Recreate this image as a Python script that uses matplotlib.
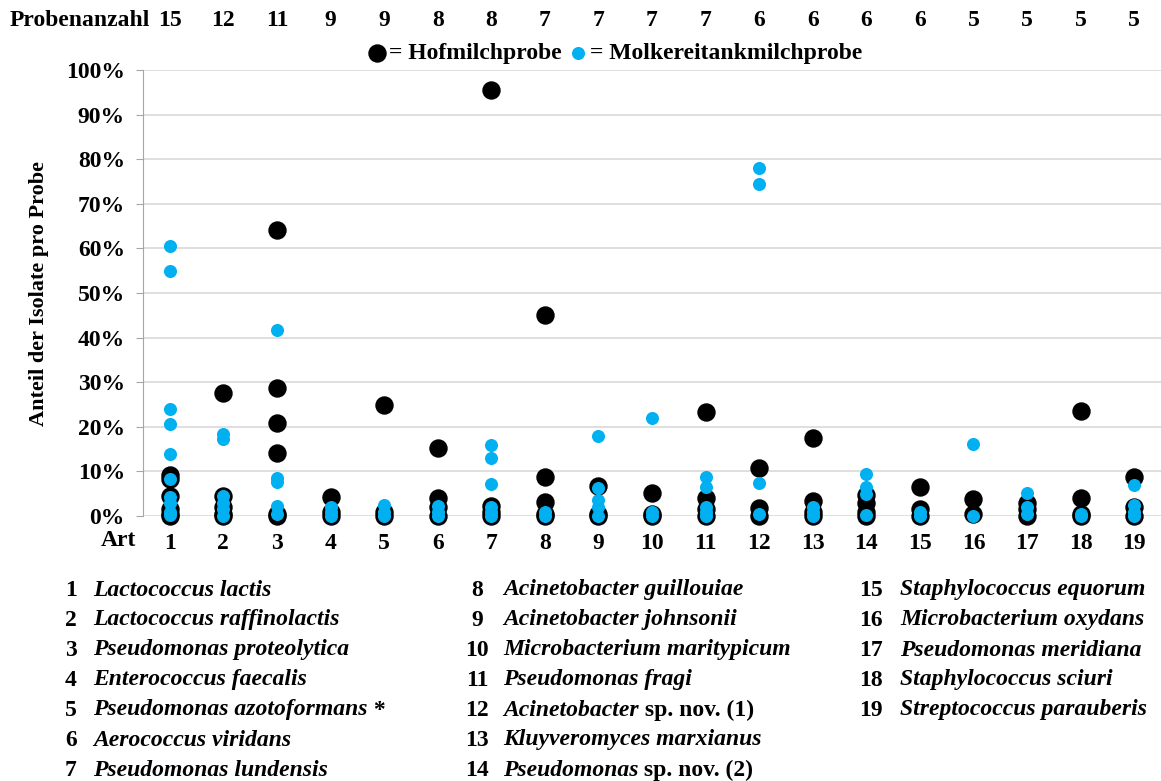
import matplotlib.pyplot as plt
import matplotlib.transforms as mtransforms

plt.rcParams["font.family"] = ["Liberation Serif", "DejaVu Serif"]
plt.rcParams["font.weight"] = "bold"

arten = list(range(1, 20))
probenanzahl = [15, 12, 11, 9, 9, 8, 8, 7, 7, 7, 7, 6, 6, 6, 6, 5, 5, 5, 5]

# Anteil der Isolate pro Probe (%)
hof_werte = [
    [9.2, 8.3, 4.5, 1.5, 0.5, 0],
    [27.6, 4.5, 2.0, 0.5, 0],
    [64.2, 28.7, 20.9, 14.1, 0.5, 0],
    [4.3, 1.0, 0],
    [25.0, 1.0, 0],
    [15.2, 4.0, 2.0, 0],
    [95.5, 2.2, 1.0, 0],
    [45.0, 8.8, 3.1, 0.5, 0],
    [6.7, 0.5, 0],
    [5.2, 0.5, 0],
    [23.3, 4.0, 1.5, 0],
    [10.8, 1.8, 0],
    [17.5, 3.4, 1.0, 0],
    [4.7, 3.0, 1.0, 0],
    [6.5, 1.5, 0],
    [3.8, 0.5],
    [3.0, 1.5, 0],
    [23.5, 4.0, 0.5, 0],
    [8.7, 2.0, 0],
]
tank_werte = [
    [60.5, 55.0, 24.0, 20.6, 14.0, 8.3, 4.2, 3.0, 1.0, 0.3],
    [18.4, 17.2, 4.5, 3.0, 1.5, 0],
    [41.7, 8.5, 7.7, 2.2, 0.5],
    [2.0, 1.0, 0],
    [2.5, 1.0, 0],
    [2.2, 1.0, 0],
    [16.0, 13.0, 7.2, 2.0, 1.0, 0],
    [1.0, 0],
    [18.0, 6.3, 3.5, 2.0, 0],
    [22.0, 1.0, 0],
    [8.8, 6.5, 2.0, 1.0, 0],
    [78.0, 74.5, 7.4, 0.5],
    [2.0, 1.0, 0],
    [9.4, 6.4, 5.0, 0.3],
    [1.0, 0],
    [16.1, 0],
    [5.1, 2.0, 0.5],
    [0.5, 0],
    [7.0, 2.5, 1.0, 0],
]

gattung = [
    "Lactococcus lactis", "Lactococcus raffinolactis", "Pseudomonas proteolytica",
    "Enterococcus faecalis", "Pseudomonas azotoformans", "Aerococcus viridans",
    "Pseudomonas lundensis", "Acinetobacter guillouiae", "Acinetobacter johnsonii",
    "Microbacterium maritypicum", "Pseudomonas fragi", "Acinetobacter",
    "Kluyveromyces marxianus", "Pseudomonas", "Staphylococcus equorum",
    "Microbacterium oxydans", "Pseudomonas meridiana", "Staphylococcus sciuri",
    "Streptococcus parauberis",
]
zusatz = {5: " *", 12: " sp. nov. (1)", 14: " sp. nov. (2)"}

blau = "#00b0f0"
fs = 17

fig = plt.figure(figsize=(11.61, 7.81), dpi=100)
ax = fig.add_axes([143 / 1161, 1 - 516 / 781, 1018 / 1161, 446 / 781])

for art, werte in zip(arten, hof_werte):
    ax.scatter([art] * len(werte), werte, s=150, color="black", zorder=3, clip_on=False,
               label="= Hofmilchprobe" if art == 1 else None)
for art, werte in zip(arten, tank_werte):
    ax.scatter([art] * len(werte), werte, s=70, color=blau, zorder=4, clip_on=False,
               label="= Molkereitankmilchprobe" if art == 1 else None)

ax.set_xlim(0.5, 19.5)
ax.set_ylim(0, 100)
ax.set_yticks(range(0, 101, 10))
ax.set_yticklabels([f"{v}%" for v in range(0, 101, 10)], fontsize=fs, fontweight="bold")
ax.set_xticks(arten)
ax.set_xticklabels([str(a) for a in arten], fontsize=fs, fontweight="bold")
ax.tick_params(axis="x", length=0, pad=12)
ax.tick_params(axis="y", length=5, color="#a6a6a6", pad=8)
ax.grid(axis="y", color="#d9d9d9", linewidth=1.2)
ax.set_axisbelow(True)
for s in ["top", "right", "bottom"]:
    ax.spines[s].set_visible(False)
ax.spines["left"].set_color("#a6a6a6")
ax.set_ylabel("Anteil der Isolate pro Probe", fontsize=16, fontweight="bold", labelpad=12)

ax.text(118 / 1161, 1 - 541 / 781, "Art", transform=fig.transFigure, fontsize=fs,
        fontweight="bold", ha="center", va="center")

# Probenanzahl row
trans = mtransforms.blended_transform_factory(ax.transData, fig.transFigure)
fig.text(10 / 1161, 1 - 21 / 781, "Probenanzahl", fontsize=fs, fontweight="bold", va="center")
for art, n in zip(arten, probenanzahl):
    ax.text(art, 1 - 21 / 781, str(n), transform=trans, fontsize=fs, fontweight="bold",
            ha="center", va="center")

fig.legend(loc="center", bbox_to_anchor=(614 / 1161, 1 - 53 / 781), ncol=2, frameon=False,
           prop={"size": fs, "weight": "bold"}, handletextpad=0.0, columnspacing=0.2,
           handlelength=1.0, markerscale=1.0, borderpad=0.1)

# key below the chart
renderer = fig.canvas.get_renderer()
spalten = [(71, 93), (477, 503), (871, 900)]
for i, name in enumerate(gattung):
    nr = i + 1
    spalte = 0 if nr <= 7 else (1 if nr <= 14 else 2)
    zeile = (nr - 1) % 7 if nr <= 14 else nr - 15
    xn, xt = spalten[spalte]
    y = 1 - (590 + zeile * 30) / 781
    fig.text(xn / 1161, y, str(nr), fontsize=fs, fontweight="bold", ha="center", va="center")
    t = fig.text(xt / 1161, y, name, fontsize=fs, fontweight="bold", style="italic",
                 ha="left", va="center")
    if nr in zusatz:
        bb = t.get_window_extent(renderer=renderer)
        fig.text(bb.x1 / fig.bbox.width, y, zusatz[nr], fontsize=fs, fontweight="bold",
                 ha="left", va="center")

fig.savefig("out.png", dpi=100)
